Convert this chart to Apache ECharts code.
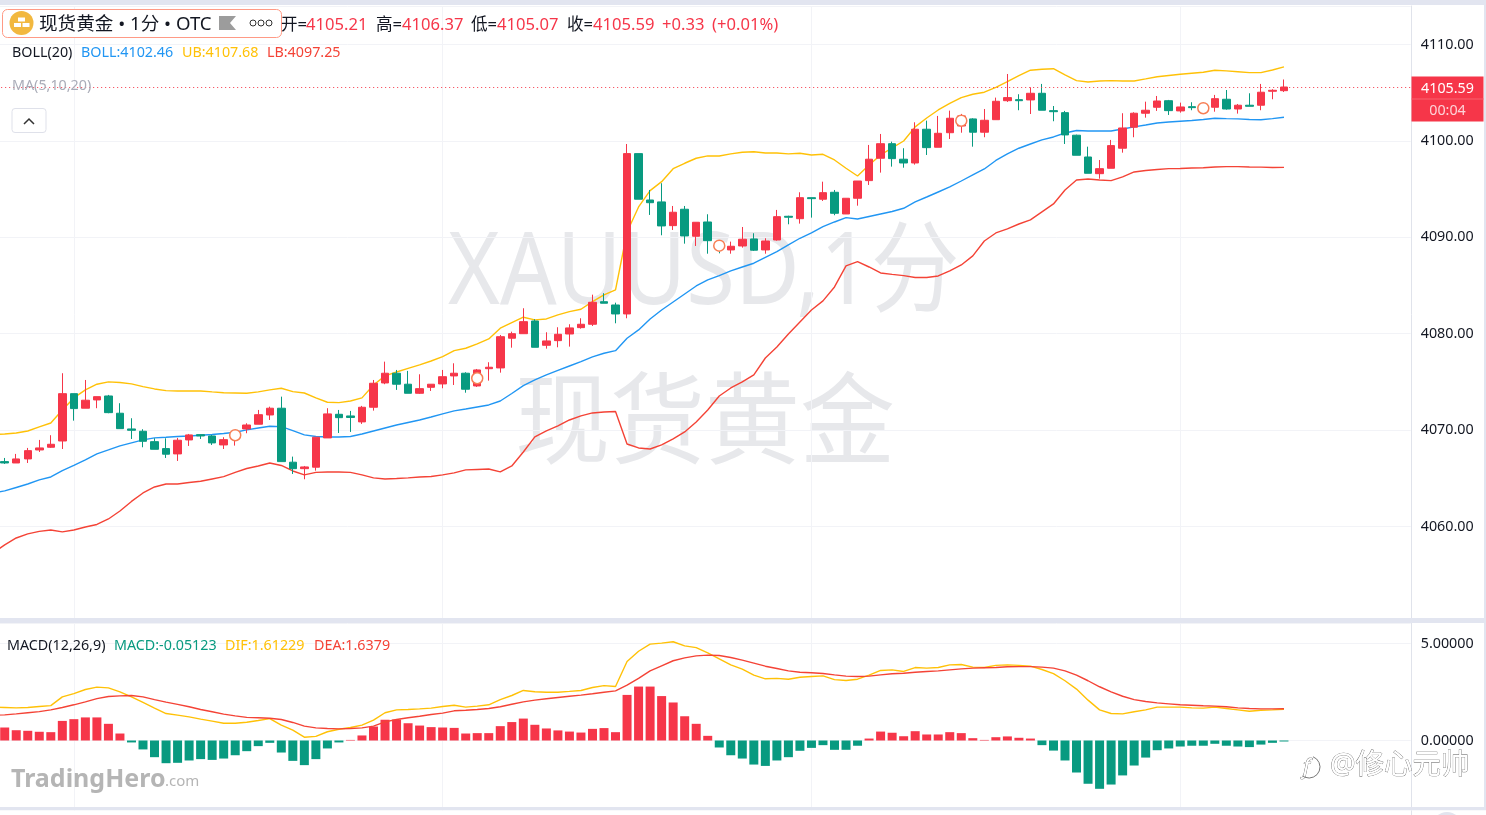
<!DOCTYPE html>
<html><head><meta charset="utf-8">
<style>html,body{margin:0;padding:0;background:#fff;overflow:hidden;width:1486px;height:815px}#c{position:absolute;left:-20px;top:0;width:1506px;height:860px}</style>
<script src="https://cdn.jsdelivr.net/npm/echarts@6/dist/echarts.min.js"></script>
</head><body><div id="c"></div>
<script>
// [open, close, low, high]
const candles = [
[4066.73,4066.59,4066.49,4067.11],[4066.59,4067.01,4066.59,4067.53],[4067.01,4067.87,4066.59,4068.15],[4067.94,4068.15,4067.73,4068.98],
[4068.22,4068.53,4068.15,4069.47],[4068.87,4073.78,4068.04,4075.90],[4073.78,4072.23,4070.98,4073.78],[4072.27,4073.10,4072.27,4075.20],
[4073.13,4073.47,4072.27,4073.47],[4073.54,4071.81,4071.75,4073.65],[4071.75,4070.15,4070.15,4072.79],[4070.12,4069.98,4069.08,4071.23],
[4069.88,4068.84,4068.22,4070.09],[4068.80,4068.01,4068.01,4069.15],[4068.08,4067.50,4067.11,4069.15],[4067.53,4068.95,4066.80,4069.19],
[4068.98,4069.50,4068.36,4069.60],[4069.53,4069.39,4069.08,4069.53],[4069.39,4068.67,4068.46,4069.50],[4068.46,4069.01,4068.04,4069.26],
[4069.29,4069.60,4068.39,4069.80],[4070.12,4070.53,4069.67,4070.71],[4070.61,4071.60,4070.61,4072.09],[4071.57,4072.27,4071.05,4072.43],
[4072.27,4066.73,4066.73,4073.47],[4066.67,4066.00,4065.45,4067.25],[4066.00,4066.18,4064.90,4066.28],[4066.15,4069.26,4065.79,4069.26],
[4069.19,4071.68,4069.19,4072.27],[4071.64,4071.29,4069.70,4072.09],[4071.47,4071.31,4069.81,4071.99],[4070.85,4072.37,4070.64,4072.51],
[4072.37,4074.86,4072.02,4075.20],[4074.89,4075.90,4074.76,4077.10],[4075.90,4074.76,4074.17,4076.24],[4074.76,4073.82,4073.82,4076.14],
[4073.82,4074.30,4073.75,4075.79],[4074.44,4074.76,4074.06,4074.76],[4074.79,4075.54,4074.34,4076.24],[4075.62,4075.90,4074.68,4076.93],
[4075.90,4074.24,4073.88,4076.00],[4074.58,4076.24,4074.48,4076.34],[4076.37,4076.52,4075.13,4077.04],[4076.45,4079.69,4075.96,4079.87],
[4079.53,4080.00,4078.55,4080.21],[4080.00,4081.25,4080.00,4082.64],[4081.32,4078.59,4078.59,4081.50],[4078.80,4079.25,4078.45,4080.15],
[4079.28,4079.94,4078.59,4080.67],[4079.97,4080.60,4078.66,4080.98],[4080.63,4080.98,4080.52,4081.60],[4080.98,4083.26,4080.80,4084.05],
[4083.32,4083.16,4083.16,4084.20],[4082.98,4082.05,4081.08,4083.22],[4082.05,4098.68,4081.60,4099.68],[4098.68,4093.95,4093.95,4098.68],
[4093.87,4093.59,4092.32,4094.91],[4093.67,4091.18,4090.21,4095.61],[4091.21,4092.60,4090.76,4093.25],[4092.91,4090.14,4089.34,4093.25],
[4090.11,4091.56,4089.10,4091.56],[4091.59,4089.65,4088.30,4092.39],[4089.41,4088.89,4088.34,4089.62],[4088.69,4089.07,4088.30,4089.55],
[4089.10,4089.80,4088.93,4091.07],[4089.83,4088.66,4088.58,4090.42],[4088.69,4089.62,4088.30,4089.90],[4089.72,4092.14,4089.65,4092.84],
[4092.18,4092.08,4091.35,4092.24],[4091.93,4094.11,4091.42,4094.67],[4094.11,4094.01,4092.04,4094.11],[4093.95,4094.63,4093.77,4095.77],
[4094.67,4092.49,4092.29,4094.91],[4092.42,4094.05,4092.42,4094.05],[4094.05,4095.84,4093.28,4095.84],[4095.88,4098.10,4095.43,4099.58],
[4098.20,4099.71,4096.71,4100.72],[4099.71,4098.16,4097.33,4099.92],[4098.10,4097.71,4097.22,4099.24],[4097.71,4101.21,4097.54,4101.93],
[4101.21,4099.30,4098.54,4102.10],[4099.34,4100.79,4099.34,4102.59],[4100.85,4102.35,4100.20,4103.14],[4101.55,4102.59,4100.85,4102.80],
[4102.28,4100.90,4099.40,4102.35],[4100.90,4102.14,4100.38,4103.31],[4102.20,4104.11,4102.20,4104.49],[4104.17,4104.49,4104.04,4106.94],
[4104.28,4104.17,4103.18,4104.84],[4104.25,4104.94,4102.79,4105.56],[4104.94,4103.18,4103.18,4105.91],[4103.14,4103.03,4102.04,4103.62],
[4102.93,4100.62,4099.68,4103.11],[4100.59,4098.51,4098.51,4100.65],[4098.33,4096.64,4096.64,4099.40],[4096.60,4097.12,4096.08,4098.02],
[4097.16,4099.51,4097.16,4100.10],[4099.24,4101.34,4098.78,4102.87],[4101.42,4102.87,4100.38,4102.97],[4102.87,4103.18,4102.41,4104.07],
[4103.49,4104.14,4103.11,4104.66],[4104.17,4103.14,4102.69,4104.25],[4103.11,4103.52,4102.93,4103.97],[4103.55,4103.45,4103.18,4104.01],
[4103.21,4103.73,4103.15,4103.80],[4103.49,4104.38,4103.03,4104.77],[4104.32,4103.31,4103.24,4105.28],[4103.31,4103.70,4102.83,4103.83],
[4103.70,4103.59,4103.59,4104.94],[4103.70,4105.05,4103.18,4105.91],[4105.15,4105.25,4104.32,4105.36],[4105.21,4105.59,4105.07,4106.37]];
// the band and DIF/DEA lists start one step before the first candle (cut off by the left edge)
const upperBand = [4069.55,4069.60,4069.70,4069.91,4070.33,4070.74,4072.09,4073.34,4074.17,4074.76,4075.00,4074.94,4074.79,4074.51,4074.27,4074.09,4074.06,4074.06,4074.06,4073.96,4073.88,4073.85,4073.82,4073.96,4074.17,4074.34,4073.99,4073.85,4073.34,4072.89,4072.85,4073.02,4073.34,4074.68,4075.62,4076.03,4076.40,4076.76,4077.17,4077.62,4078.24,4078.49,4078.94,4079.46,4080.57,4081.15,4081.71,4081.43,4081.53,4081.95,4082.29,4082.54,4083.32,4084.02,4084.54,4090.55,4093.15,4094.84,4095.77,4097.12,4097.68,4098.20,4098.44,4098.44,4098.65,4098.82,4098.88,4098.75,4098.75,4098.65,4098.72,4098.54,4098.61,4098.02,4097.16,4096.36,4097.50,4098.54,4099.27,4099.99,4101.45,4102.38,4103.21,4103.90,4104.49,4104.84,4105.05,4105.56,4106.15,4106.77,4107.33,4107.43,4107.49,4106.84,4106.25,4106.11,4106.22,4106.25,4106.22,4106.22,4106.43,4106.66,4106.79,4106.91,4107.02,4107.12,4107.33,4107.26,4107.18,4107.08,4107.08,4107.36,4107.68];
const midBand = [4063.48,4063.69,4064.05,4064.41,4064.83,4065.14,4065.79,4066.33,4066.90,4067.53,4067.94,4068.36,4068.67,4068.98,4069.19,4069.26,4069.34,4069.39,4069.47,4069.55,4069.65,4069.78,4070.02,4070.22,4070.40,4070.36,4069.94,4069.50,4069.34,4069.29,4069.29,4069.34,4069.60,4069.91,4070.22,4070.53,4070.79,4071.05,4071.36,4071.68,4071.99,4072.19,4072.40,4072.61,4073.02,4073.80,4074.61,4075.20,4075.72,4076.19,4076.65,4077.10,4077.59,4077.97,4078.24,4079.53,4080.39,4081.53,4082.46,4083.29,4084.12,4084.95,4085.58,4086.02,4086.51,4086.92,4087.31,4087.91,4088.51,4089.21,4089.90,4090.45,4091.10,4091.59,4092.04,4091.90,4092.16,4092.42,4092.68,4093.01,4093.67,4094.18,4094.70,4095.22,4095.84,4096.47,4097.09,4097.97,4098.65,4099.24,4099.68,4100.10,4100.41,4100.82,4101.08,4101.03,4101.03,4101.03,4101.24,4101.45,4101.65,4101.86,4101.96,4102.04,4102.12,4102.22,4102.35,4102.31,4102.28,4102.22,4102.20,4102.31,4102.46];
const lowerBand = [4057.26,4058.09,4058.81,4059.23,4059.49,4059.64,4059.44,4059.64,4059.95,4060.21,4060.78,4061.61,4062.60,4063.48,4064.10,4064.41,4064.41,4064.57,4064.69,4064.93,4065.17,4065.61,4066.02,4066.28,4066.59,4066.33,4065.76,4065.35,4065.61,4065.66,4065.66,4065.61,4065.35,4065.04,4064.93,4064.98,4065.04,4065.14,4065.19,4065.35,4065.56,4065.87,4065.92,4065.97,4065.66,4066.28,4067.73,4069.29,4069.91,4070.43,4071.05,4071.47,4071.78,4071.88,4071.93,4068.56,4068.15,4068.04,4068.46,4069.08,4069.81,4070.85,4072.09,4073.54,4074.37,4075.00,4075.72,4077.48,4078.62,4079.97,4081.22,4082.46,4083.40,4084.85,4087.03,4087.47,4086.92,4086.30,4086.15,4086.02,4085.83,4085.83,4085.99,4086.51,4087.13,4088.07,4089.62,4090.45,4090.87,4091.38,4091.80,4092.63,4093.46,4094.91,4095.95,4096.05,4095.95,4095.88,4096.26,4096.78,4096.93,4097.04,4097.12,4097.14,4097.19,4097.22,4097.30,4097.33,4097.33,4097.30,4097.28,4097.24,4097.25];
const macdHist = [0.67,0.53,0.50,0.45,0.43,1.01,1.10,1.19,1.19,0.86,0.36,-0.10,-0.46,-0.86,-1.17,-1.15,-1.03,-0.96,-1.00,-0.93,-0.76,-0.55,-0.29,-0.12,-0.62,-1.05,-1.27,-0.96,-0.41,-0.10,0.03,0.26,0.72,1.07,1.08,0.89,0.77,0.69,0.67,0.65,0.36,0.38,0.38,0.74,0.95,1.13,0.81,0.62,0.52,0.46,0.41,0.60,0.64,0.43,2.35,2.78,2.78,2.29,1.96,1.25,0.86,0.24,-0.36,-0.76,-0.93,-1.24,-1.31,-1.03,-0.86,-0.53,-0.38,-0.24,-0.48,-0.48,-0.27,0.10,0.46,0.40,0.22,0.48,0.31,0.31,0.43,0.38,0.12,0.03,0.17,0.21,0.14,0.10,-0.24,-0.52,-1.03,-1.65,-2.23,-2.49,-2.27,-1.80,-1.29,-0.88,-0.50,-0.41,-0.31,-0.27,-0.27,-0.17,-0.27,-0.31,-0.34,-0.21,-0.12,-0.05123];
const difLine = [1.72,1.70,1.68,1.70,1.75,1.80,2.25,2.42,2.63,2.75,2.71,2.51,2.25,1.96,1.67,1.39,1.31,1.22,1.10,1.00,0.89,0.89,0.94,1.03,1.13,0.79,0.53,0.17,0.21,0.45,0.58,0.67,0.79,1.05,1.43,1.58,1.60,1.63,1.67,1.75,1.82,1.72,1.77,1.84,2.11,2.32,2.58,2.51,2.49,2.49,2.53,2.58,2.73,2.83,2.78,4.07,4.60,4.97,5.02,5.09,4.88,4.79,4.52,4.21,3.90,3.68,3.37,3.18,3.20,3.16,3.26,3.30,3.33,3.14,3.09,3.16,3.37,3.61,3.64,3.56,3.76,3.73,3.76,3.90,3.92,3.78,3.76,3.87,3.90,3.87,3.83,3.66,3.45,3.08,2.65,2.08,1.58,1.39,1.37,1.48,1.58,1.72,1.72,1.72,1.68,1.67,1.72,1.65,1.58,1.51,1.56,1.58,1.61229];
const deaLine = [1.31,1.32,1.37,1.43,1.49,1.58,1.70,1.84,1.99,2.16,2.27,2.30,2.32,2.25,2.11,1.98,1.86,1.74,1.60,1.48,1.36,1.27,1.19,1.17,1.15,1.08,0.93,0.74,0.65,0.62,0.60,0.62,0.65,0.74,0.96,1.08,1.17,1.25,1.34,1.41,1.53,1.56,1.60,1.65,1.74,1.87,1.99,2.08,2.15,2.22,2.28,2.34,2.41,2.49,2.56,2.85,3.20,3.59,3.85,4.11,4.26,4.36,4.40,4.38,4.28,4.14,3.99,3.83,3.71,3.59,3.52,3.49,3.45,3.38,3.32,3.30,3.32,3.38,3.44,3.47,3.52,3.56,3.59,3.64,3.69,3.73,3.75,3.76,3.80,3.81,3.81,3.78,3.73,3.59,3.37,3.08,2.77,2.51,2.28,2.11,2.01,1.94,1.89,1.84,1.82,1.79,1.77,1.74,1.68,1.65,1.63,1.63,1.6379];
const markerIndex = [20,41,62,83,104];
const markerValue = [4069.47,4075.38,4089.13,4102.10,4103.39];
const timeLineIndex = [6,38,70,102];
const priceTicks = [4060,4070,4080,4090,4100,4110];
const lastPrice = 4105.59;

const RED='#f63649', GREEN='#089a80', BLUE='#2196f3', YEL='#ffc107', LRED='#f44336', GRID='#f2f3f7', AXIS='#e0e3eb', BAND='#e2e5f0';
const FONT='"Noto Sans","Noto Sans CJK SC",sans-serif';
const SHIFT=20; // the canvas starts this far left of the window so the first candle's band can be cut off
const categories = Array.from({length:124},(_,i)=>String(i-1));
const pad = a => ['-'].concat(a);
const splitIdx = timeLineIndex.map(i=>i+1);
const xBase = g => ({type:'category',gridIndex:g,data:categories,boundaryGap:false,
  axisLine:{show:false},axisTick:{show:false},axisLabel:{show:false},
  splitLine:{show:true,interval:i=>splitIdx.includes(i),lineStyle:{color:GRID,width:1}}});
const yBase = g => ({type:'value',gridIndex:g,position:'right',scale:true,
  axisLine:{show:true,lineStyle:{color:AXIS,width:1}},axisTick:{show:false},
  splitLine:{show:true,lineStyle:{color:GRID,width:1}}});

const t=(x,y,s,fill,size,extra)=>Object.assign({type:'text',x,y,z:200,silent:true,
  style:{text:s,fill,font:`${size}px ${FONT}`,verticalAlign:'middle',align:'left'}},extra||{});
const rect=(x,y,w,h,fill,z)=>({type:'rect',z:z||190,silent:true,shape:{x,y,width:w,height:h},style:{fill}});

const graphic=[
 // watermarks
 {type:'text',x:448,y:276,scaleX:0.887,z:0,silent:true,style:{text:'XAUUSD,1分',fill:'#e7e8eb',font:`100px ${FONT}`,verticalAlign:'middle'}},
 {type:'text',x:515,y:428,scaleX:0.95,z:0,silent:true,style:{text:'现货黄金',fill:'#e7e8eb',font:`100px ${FONT}`,verticalAlign:'middle'}},
 // panel bands
 rect(0,0,1486,5,BAND), rect(0,618,1486,5,BAND), rect(0,807,1486,3.5,BAND), rect(0,810.5,1486,50,'#fff'), rect(1484,0,2,810,BAND),
 rect(1411,810.5,1,5,AXIS,191),
 {type:'circle',z:192,silent:true,shape:{cx:1447,cy:826,r:14},style:{fill:'#e2e4ee'}},
 // title pill
 {type:'rect',z:195,silent:true,shape:{x:2.5,y:9.5,width:279,height:28,r:5},style:{fill:'#fff',stroke:'#ff9a85',lineWidth:1}},
 {type:'circle',z:200,silent:true,shape:{cx:21.5,cy:23,r:12},style:{fill:'#f2b83f'}},
 rect(18,17.5,7,4,'#fff',201), rect(14,23,7,4,'#fff',201), rect(22.5,23,7,4,'#fff',201),
 t(39,24.5,'现货黄金 • 1分 • OTC','#131722',18.6),
 {type:'polygon',z:200,silent:true,shape:{points:[[219,16],[236,16],[230,23],[236,30],[219,30]]},style:{fill:'#9c9c9c'}},
 ...[253,261,269].map(cx=>({type:'circle',z:200,silent:true,shape:{cx,cy:23,r:3},style:{fill:'#fff',stroke:'#333',lineWidth:1}})),
 t(281,25,'开=','#131722',16.6), t(306,25,'4105.21',RED,16.6),
 t(376,25,'高=','#131722',16.6), t(402,25,'4106.37',RED,16.6),
 t(471,25,'低=','#131722',16.6), t(497,25,'4105.07',RED,16.6),
 t(567,25,'收=','#131722',16.6), t(593,25,'4105.59',RED,16.6),
 t(662,25,'+0.33',RED,16.6), t(712,25,'(+0.01%)',RED,16.6),
 // BOLL legend
 t(12,53,'BOLL(20)','#131722',14.3), t(81,53,'BOLL:4102.46',BLUE,14.3), t(182,53,'UB:4107.68',YEL,14.3), t(267,53,'LB:4097.25',LRED,14.3),
 t(12,86,'MA(5,10,20)','#a9acb8',14.3),
 {type:'rect',z:200,silent:true,shape:{x:12,y:108.5,width:34,height:24,r:3},style:{fill:'#fff',stroke:'#dfe1ea',lineWidth:1}},
 {type:'polyline',z:201,silent:true,shape:{points:[[24,124],[29,119],[34,124]]},style:{fill:'none',stroke:'#333',lineWidth:1.5}},
 // MACD legend
 t(7,645.5,'MACD(12,26,9)','#131722',14.3), t(114,645.5,'MACD:-0.05123',GREEN,14.3), t(225,645.5,'DIF:1.61229',YEL,14.3), t(314,645.5,'DEA:1.6379',LRED,14.3),
 // price tag
 rect(1411.5,76.5,72,45,RED), rect(1411.5,98.5,72,1,'#f8606f',191),
 {type:'text',x:1447.5,y:89,z:200,silent:true,style:{text:'4105.59',fill:'#fff',font:`14.3px ${FONT}`,align:'center',verticalAlign:'middle'}},
 {type:'text',x:1447.5,y:111,z:200,silent:true,style:{text:'00:04',fill:'#fdd3d8',font:`14.3px ${FONT}`,align:'center',verticalAlign:'middle'}},
 // brand marks
 {type:'text',x:11,y:780,z:200,silent:true,style:{text:'TradingHero',fill:'#b5b5b5',font:`bold 25px ${FONT}`,verticalAlign:'middle'}},
 {type:'text',x:165,y:782,z:200,silent:true,style:{text:'.com',fill:'#b5b5b5',font:`15px ${FONT}`,verticalAlign:'middle'}},
 {type:'text',x:1330,y:766,z:200,silent:true,style:{text:'@修心元帅',fill:'#ffffff',stroke:'#555',lineWidth:0.6,font:`28.5px ${FONT}`,verticalAlign:'middle'}},
 {type:'text',x:1303,y:768,z:200,silent:true,style:{text:'f',fill:'#fff',stroke:'#444',lineWidth:0.6,font:`italic 22px ${FONT}`,verticalAlign:'middle'}},
 {type:'arc',z:200,silent:true,shape:{cx:1309,cy:767,r:11,startAngle:-1.2,endAngle:2.2},style:{fill:'none',stroke:'#555',lineWidth:0.8}},
];

const line=(name,data,color,ax)=>({name,type:'line',data,xAxisIndex:ax,yAxisIndex:ax,symbol:'none',smooth:false,
  z:3,lineStyle:{color,width:1.4},itemStyle:{color},silent:true,connectNulls:false});

const option={
 animation:false,backgroundColor:'#fff',graphic:{elements:[{type:'group',x:SHIFT,y:0,children:graphic}]},
 grid:[
  {left:SHIFT-6.825,width:1417.575,top:5.94,height:616.96,containLabel:false},
  {left:SHIFT-6.825,width:1417.575,top:622.16,height:215.34,containLabel:false}
 ],
 xAxis:[xBase(0),xBase(1)],
 yAxis:[
  Object.assign(yBase(0),{min:4050,max:4114,interval:10,
    axisLabel:{margin:10,padding:[3,0,0,0],color:'#131722',fontSize:14.3,fontFamily:FONT,showMinLabel:false,showMaxLabel:false,
      formatter:v=>priceTicks.includes(v)?v.toFixed(2):''}}),
  Object.assign(yBase(1),{min:-5,max:6.1,interval:5,
    axisLabel:{margin:10,padding:[3,0,0,0],color:'#131722',fontSize:14.3,fontFamily:FONT,showMinLabel:false,showMaxLabel:false,
      formatter:v=>v.toFixed(5)}})
 ],
 series:[
  line('UB',upperBand,YEL,0),
  line('BOLL',midBand,BLUE,0),
  line('LB',lowerBand,LRED,0),
  {name:'K',type:'candlestick',xAxisIndex:0,yAxisIndex:0,z:4,silent:true,
   data:pad(candles).map(c=>c==='-'?['-','-','-','-']:c),barWidth:8,
   itemStyle:{color:RED,color0:GREEN,borderColor:RED,borderColor0:GREEN,borderWidth:1},
   markLine:{silent:true,symbol:'none',label:{show:false},animation:false,
     lineStyle:{color:RED,type:[1,3],width:1},data:[{yAxis:lastPrice}]}},
  {name:'marker',type:'scatter',xAxisIndex:0,yAxisIndex:0,z:5,silent:true,symbol:'circle',symbolSize:11,
   data:markerIndex.map((i,k)=>[i+1,markerValue[k]]),
   itemStyle:{color:'#fff',borderColor:'#f77f55',borderWidth:1.5,opacity:1}},
  {name:'MACD',type:'bar',xAxisIndex:1,yAxisIndex:1,barWidth:9,z:2,silent:true,
   data:pad(macdHist),itemStyle:{color:p=>p.value>=0?RED:GREEN}},
  line('DIF',difLine,YEL,1),
  line('DEA',deaLine,LRED,1)
 ]
};
const chart=echarts.init(document.getElementById('c'),null,{renderer:'canvas'});
chart.setOption(option);
</script></body></html>
